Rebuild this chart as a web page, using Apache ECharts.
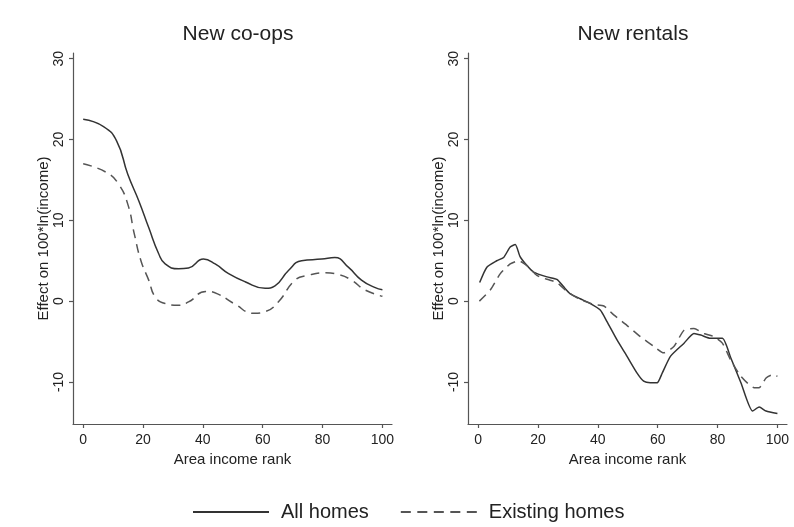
<!DOCTYPE html>
<html>
<head>
<meta charset="utf-8">
<script src="https://cdn.jsdelivr.net/npm/echarts@6/dist/echarts.min.js"></script>
<style>html,body{margin:0;padding:0;background:#fff}#c{width:794px;height:527px}</style>
</head>
<body>
<div id="c"></div>
<script>
// ---- data ----
var xTicks = [0, 20, 40, 60, 80, 100];
var yTicks = [-10, 0, 10, 20, 30];

var coopsAllX = [0, 6.8, 11.2, 14.9, 18.6, 21.9, 25.2, 27.4, 31.9, 35.2, 40.2, 44.1, 48.6, 54.1, 60.8, 64.1, 68.6, 73.0, 79.7, 84.1, 88.6, 93.0, 97.4, 100];
var coopsAllY = [22.5, 21.6, 19.8, 15.7, 12.4, 9.1, 5.9, 4.6, 4.0, 4.1, 5.2, 4.6, 3.4, 2.4, 1.6, 1.9, 3.8, 5.0, 5.2, 5.4, 4.2, 2.6, 1.7, 1.4];

var coopsExX = [0, 7.9, 11.8, 14.9, 17.1, 19.3, 21.9, 24.1, 27.4, 31.9, 35.2, 41.0, 44.9, 50.4, 57.1, 60.8, 65.2, 70.8, 75.2, 80.8, 85.2, 89.7, 94.1, 100];
var coopsExY = [17.0, 15.9, 14.5, 12.0, 8.3, 5.0, 2.6, 0.5, -0.3, -0.5, -0.1, 1.2, 0.9, -0.3, -1.5, -1.3, -0.1, 2.6, 3.2, 3.5, 3.3, 2.6, 1.4, 0.6];

var rentAllX = [0.5, 2.9, 6.2, 8.5, 10.7, 12.4, 14.0, 16.3, 18.5, 23.0, 26.3, 28.5, 30.8, 34.1, 37.5, 40.8, 43.0, 46.4, 49.7, 53.1, 55.3, 57.5, 59.8, 61.5, 64.3, 68.8, 72.1, 74.4, 77.7, 81.6, 84.4, 87.8, 91.7, 93.9, 96.2, 100];
var rentAllY = [2.3, 4.2, 5.0, 5.4, 6.7, 7.0, 5.5, 4.4, 3.6, 3.0, 2.7, 1.8, 0.9, 0.3, -0.3, -1.1, -2.5, -4.8, -6.8, -8.9, -9.9, -10.1, -10.1, -8.9, -6.8, -5.2, -4.0, -4.2, -4.6, -4.6, -7.0, -10.1, -13.6, -13.1, -13.6, -13.9];

var rentExX = [0.4, 4.1, 7.4, 10.7, 13.5, 16.3, 19.6, 23.0, 26.3, 29.7, 34.1, 38.6, 42.0, 45.3, 49.7, 54.2, 58.7, 62.0, 65.4, 68.8, 72.1, 75.5, 78.8, 81.6, 84.4, 87.8, 92.2, 93.9, 96.2, 98.4, 100];
var rentExY = [0.0, 1.4, 3.4, 4.6, 5.0, 4.4, 3.2, 2.7, 2.3, 1.2, 0.2, -0.4, -0.6, -1.7, -3.0, -4.4, -5.6, -6.4, -5.6, -3.6, -3.4, -4.0, -4.4, -5.2, -7.3, -9.3, -10.7, -10.7, -9.5, -9.1, -9.3];

var panelTitles = ['New co-ops', 'New rentals'];
var seriesNames = ['All homes', 'Existing homes'];
var xName = 'Area income rank';
var yName = 'Effect on 100*ln(income)';

function pairs(xs, ys) { return xs.map(function (x, i) { return [x, ys[i]]; }); }

var FONT = 'Liberation Sans';
var axisCol = '#555';
var textCol = '#222';

function xAxis(idx) {
  return {
    type: 'value', gridIndex: idx, min: -3.4, max: 103.2,
    name: xName, nameLocation: 'middle', nameGap: 25,
    nameTextStyle: { fontFamily: FONT, fontSize: 15, color: textCol },
    axisLine: { show: true, onZero: false, lineStyle: { color: axisCol, width: 1.2 } },
    axisTick: { show: true, length: 4, customValues: xTicks, lineStyle: { color: axisCol, width: 1.2 } },
    axisLabel: { customValues: xTicks, fontFamily: FONT, fontSize: 14, color: textCol, margin: 9 },
    splitLine: { show: false }
  };
}
function yAxis(idx) {
  return {
    type: 'value', gridIndex: idx, min: -15.2, max: 30.7,
    name: yName, nameLocation: 'middle', nameGap: 20, nameRotate: 90,
    nameTextStyle: { fontFamily: FONT, fontSize: 15, color: textCol },
    axisLine: { show: true, onZero: false, lineStyle: { color: axisCol, width: 1.2 } },
    axisTick: { show: true, length: 4, customValues: yTicks, lineStyle: { color: axisCol, width: 1.2 } },
    axisLabel: { customValues: yTicks, rotate: 90, fontFamily: FONT, fontSize: 14, color: textCol, margin: 7 },
    splitLine: { show: false }
  };
}
function line(name, data, idx, dashed, smooth) {
  var col = dashed ? '#555' : '#333';
  return {
    name: name, type: 'line', xAxisIndex: idx, yAxisIndex: idx,
    data: data, showSymbol: false, symbol: 'none', smooth: smooth,
    lineStyle: { color: col, width: 1.5, type: dashed ? [9, 6] : 'solid' },
    itemStyle: { color: col },
    animation: false
  };
}

var solidIcon = 'path://M0,0h76v2h-76z';
var dashIcon = 'path://M0,0h10v2h-10z M16.5,0h10v2h-10z M33,0h10v2h-10z M49.5,0h10v2h-10z M66,0h10v2h-10z';

var chart = echarts.init(document.getElementById('c'), null, { renderer: 'canvas' });
chart.setOption({
  backgroundColor: '#fff',
  animation: false,
  title: [
    { text: panelTitles[0], left: 233, top: 19, textAlign: 'center', textStyle: { fontFamily: FONT, fontSize: 21, fontWeight: 'normal', color: textCol } },
    { text: panelTitles[1], left: 628, top: 19, textAlign: 'center', textStyle: { fontFamily: FONT, fontSize: 21, fontWeight: 'normal', color: textCol } }
  ],
  grid: [
    { left: 73, right: 402, top: 53, bottom: 103 },
    { left: 468, right: 7, top: 53, bottom: 103 }
  ],
  xAxis: [xAxis(0), xAxis(1)],
  yAxis: [yAxis(0), yAxis(1)],
  legend: {
    data: [
      { name: seriesNames[0], icon: solidIcon },
      { name: seriesNames[1], icon: dashIcon }
    ],
    top: 497, left: 188,
    itemWidth: 76, itemHeight: 2, itemGap: 32,
    textStyle: { fontFamily: FONT, fontSize: 20, color: textCol, padding: [0, 0, 0, 7] }
  },
  series: [
    line(seriesNames[0], pairs(coopsAllX, coopsAllY), 0, false, 0.5),
    line(seriesNames[1], pairs(coopsExX, coopsExY), 0, true, 0.5),
    line(seriesNames[0], pairs(rentAllX, rentAllY), 1, false, 0.2),
    line(seriesNames[1], pairs(rentExX, rentExY), 1, true, 0.2)
  ]
});
</script>
</body>
</html>
